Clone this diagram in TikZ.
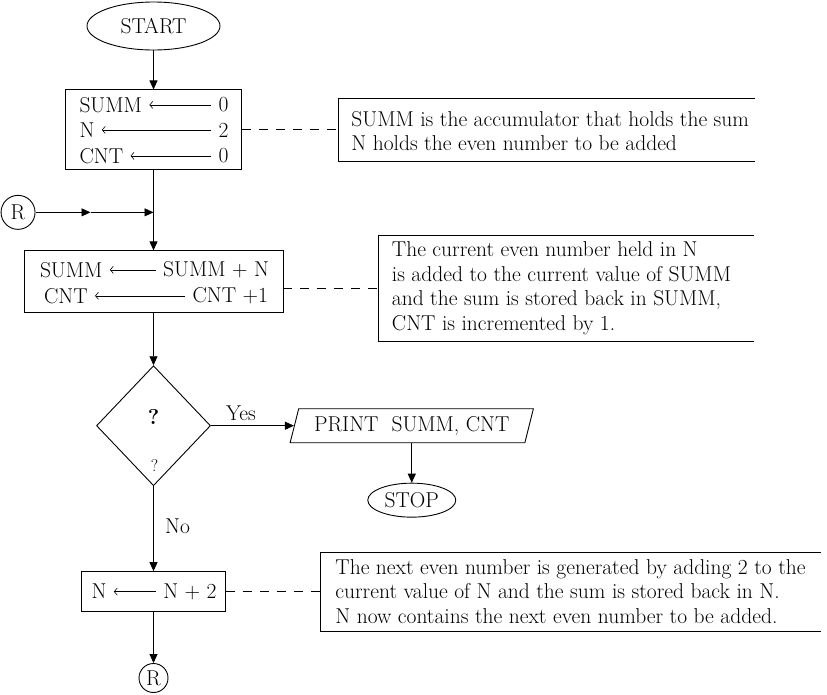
\documentclass[tikz,border=0pt]{standalone}
\usetikzlibrary{shapes.geometric,arrows.meta,positioning}
\tikzset{
    > = {Triangle[length=9pt,width=8pt]},
    every node/.append style = {
        font = \fontsize{21.5}{24.5}\selectfont,
        text = black
    },
    every path/.append style = {
        line width = 0.9pt
    },
    term/.style = {draw, ellipse, inner sep = 0pt},
    procbox/.style = {draw, rectangle, inner sep = 0pt},
    conn/.style = {draw, circle, inner sep = 0pt},
    txt/.style = {inner sep = 0pt},
    asgn/.style = {
        line width = 0.6pt,
        arrows = {-Straight Barb[length=3pt,width=7pt]},
        shorten >= 7pt,
        shorten <= 7pt
    },
    notebox/.style = {rectangle, inner sep = 0pt},
    notetxt/.style = {inner sep = 0pt, align = left, anchor = west},
    link/.style = {dash pattern = on 9pt off 8pt}
}

\begin{document}
\begin{tikzpicture}
    \useasboundingbox (0,0) rectangle (827pt,-694pt);

    \node (start) [term, minimum width = 133pt, minimum height = 48pt] at (153.5pt,-26pt) {START};
    \node (init) [procbox, below = 39pt of start, minimum width = 176pt, minimum height = 80pt] {};
    \node (sumL) [txt, anchor = west] at ([xshift = 14pt, yshift = 25pt]init.west) {SUMM};
    \node (sumR) [txt, anchor = east] at ([xshift = -13pt, yshift = 25pt]init.east) {0};
    \node (nL) [txt, anchor = west] at ([xshift = 14pt]init.west) {N};
    \node (nR) [txt, anchor = east] at ([xshift = -13pt]init.east) {2};
    \node (cntL) [txt, anchor = west] at ([xshift = 14pt, yshift = -26pt]init.west) {CNT};
    \node (cntR) [txt, anchor = east] at ([xshift = -13pt, yshift = -26pt]init.east) {0};
    \draw[asgn] (sumR.west) -- (sumL.east);
    \draw[asgn] (nR.west) -- (nL.east);
    \draw[asgn] (cntR.west) -- (cntL.east);
    \draw[->] (start) -- (init);

    \node (note1) [notebox, right = 96pt of init, minimum width = 416pt, minimum height = 63pt] {};
    \node (note1txt) [notetxt] at ([xshift = 13pt, yshift = -1pt]note1.west)
        {SUMM is the accumulator that holds the sum\\N holds the even number to be added};
    \draw (note1.north east) -- (note1.north west) -- (note1.south west) -- (note1.south east);
    \draw[link] (init) -- (note1);

%add connector R
    \coordinate[below = 42pt of init] (merge);
    \coordinate[left = 63pt of merge] (rmid);
    \node (ra) [conn, left = 118pt of merge, minimum size = 34pt] {R};
    \draw[->] (ra) -- (rmid);
    \draw[->] (rmid) -- (merge);

    \node (upd) [procbox, below = 80pt of init, minimum width = 259pt, minimum height = 62pt] {};
    \node (sumL2) [txt, anchor = west] at ([xshift = 16pt, yshift = 12pt]upd.west) {SUMM};
    \node (sumR2) [txt, anchor = east] at ([xshift = -14pt, yshift = 12pt]upd.east) {SUMM + N};
    \node (cntL2) [txt, anchor = west] at ([xshift = 20pt, yshift = -14pt]upd.west) {CNT};
    \node (cntR2) [txt, anchor = east] at ([xshift = -15pt, yshift = -14pt]upd.east) {CNT +1};
    \draw[asgn] (sumR2.west) -- (sumL2.east);
    \draw[asgn] (cntR2.west) -- (cntL2.east);
    \draw[->] (init) -- (upd);

    \node (note2) [notebox, right = 95pt of upd, yshift = -6.5pt, minimum width = 375pt, minimum height = 105pt] {};
    \node (note2txt) [notetxt] at ([xshift = 13pt]note2.west)
        {The current even number held in N\\is added to the current value of SUMM\\and the sum is stored back in SUMM,\\CNT is incremented by 1.};
    \draw (note2.north east) -- (note2.north west) -- (note2.south west) -- (note2.south east);
    \draw[link] (upd.east |- note2.west) -- (note2.west);

%decision
    \node (dec) [draw, diamond, below = 52pt of upd, minimum width = 114pt, minimum height = 120pt, inner sep = 0pt] {};
    \node (qbig) [txt] at ([yshift = 9pt]dec.center) {\textbf{?}};
    \node (qsmall) [txt, font = \fontsize{17}{20}\selectfont] at ([xshift = 1pt, yshift = -40pt]dec.center) {?};
    \draw[->] (upd) -- (dec);

    \node (prt) [draw, trapezium, trapezium left angle = 69, trapezium right angle = 111, trapezium stretches,
        right = 83pt of dec, minimum width = 244pt, minimum height = 34pt, inner sep = 0pt] {PRINT\ \ SUMM, CNT};
    \node (yes) [txt] at ([xshift = 30pt, yshift = 12pt]dec.east) {Yes};
    \draw[->] (dec) -- (prt);

    \node (stop) [term, below = 57pt of prt.center, minimum width = 88pt, minimum height = 34pt] {STOP};
    \draw[->] (prt) -- (stop);

    \node (inc) [procbox, below = 85pt of dec, minimum width = 144pt, minimum height = 40pt] {};
    \node (nL3) [txt, anchor = west] at ([xshift = 10pt]inc.west) {N};
    \node (nR3) [txt, anchor = east] at ([xshift = -9pt]inc.east) {N + 2};
    \draw[asgn] (nR3.west) -- (nL3.east);
    \node (no) [txt] at ([xshift = 24pt, yshift = -40pt]dec.south) {No};
    \draw[->] (dec) -- (inc);

    \node (note3) [notebox, right = 94pt of inc, minimum width = 500pt, minimum height = 78pt] {};
    \node (note3txt) [notetxt] at ([xshift = 15pt]note3.west)
        {The next even number is generated by adding 2 to the\\current value of N and the sum is stored back in N.\\N now contains the next even number to be added.};
    \draw (note3.north east) -- (note3.north west) -- (note3.south west) -- (note3.south east);
    \draw[link] (inc) -- (note3);

    \node (rb) [conn, below = 51pt of inc, minimum size = 29pt] {R};
    \draw[->] (inc) -- (rb);
\end{tikzpicture}
\end{document}
